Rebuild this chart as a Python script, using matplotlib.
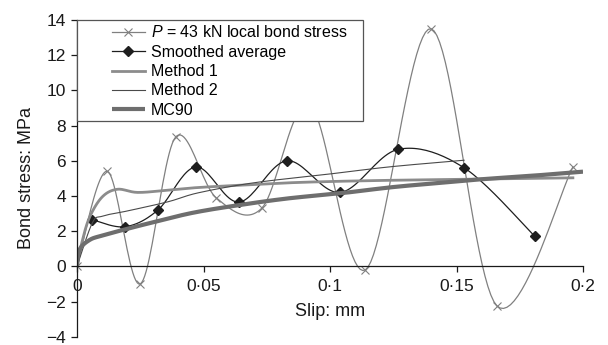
import numpy as np
import matplotlib
matplotlib.use("Agg")
import matplotlib.pyplot as plt
from matplotlib.legend_handler import HandlerLine2D
from matplotlib.patches import Rectangle

plt.rcParams['font.family'] = ['Liberation Sans', 'DejaVu Sans']
plt.rcParams['mathtext.fontset'] = 'custom'
plt.rcParams['mathtext.it'] = 'Liberation Sans:italic'
plt.rcParams['mathtext.rm'] = 'Liberation Sans'

# local bond stress at P = 43 kN (x markers)
local_x = [0, 0.012, 0.025, 0.039, 0.055, 0.073, 0.092, 0.114, 0.140, 0.166, 0.196]
local_y = [0, 5.4, -1.0, 7.35, 3.9, 3.3, 9.2, -0.2, 13.5, -2.25, 5.65]

# smoothed average (diamonds)
avg_x = [0.006, 0.019, 0.032, 0.047, 0.064, 0.083, 0.104, 0.127, 0.153, 0.181]
avg_y = [2.65, 2.25, 3.2, 5.65, 3.65, 6.0, 4.2, 6.65, 5.6, 1.7]

# method 1
m1_x = [0, 0.002, 0.005, 0.010, 0.016, 0.024, 0.036, 0.048, 0.070, 0.090, 0.120, 0.160, 0.196]
m1_y = [0, 1.4, 2.8, 3.95, 4.38, 4.2, 4.33, 4.48, 4.65, 4.78, 4.88, 4.96, 5.03]

# method 2
m2_x = [0, 0.006, 0.010, 0.020, 0.036, 0.048, 0.070, 0.100, 0.124, 0.153]
m2_y = [0, 2.45, 2.85, 3.15, 3.67, 4.18, 4.75, 5.25, 5.66, 6.03]

# MC90
mc_x = [0, 0.001, 0.005, 0.010, 0.019, 0.030, 0.046, 0.065, 0.084, 0.104, 0.124, 0.140, 0.160, 0.180, 0.200]
mc_y = [0, 0.95, 1.5, 1.75, 2.1, 2.5, 3.05, 3.5, 3.87, 4.15, 4.49, 4.7, 4.95, 5.15, 5.38]

x_ticks = [0, 0.05, 0.1, 0.15, 0.2]
x_labels = ['0', '0·05', '0·1', '0·15', '0·2']
y_ticks = list(range(-4, 15, 2))


def smooth(x, y, n=24):
    # Excel-style smoothed line (Catmull-Rom Bezier through the points)
    p = np.column_stack([x, y]).astype(float)
    ext = np.vstack([p[0], p, p[-1]])
    out = []
    t = np.linspace(0, 1, n)[:, None]
    for i in range(len(p) - 1):
        p0, p1, p2, p3 = ext[i], ext[i + 1], ext[i + 2], ext[i + 3]
        c1 = p1 + (p2 - p0) / 6
        c2 = p2 - (p3 - p1) / 6
        seg = (1 - t) ** 3 * p1 + 3 * (1 - t) ** 2 * t * c1 + 3 * (1 - t) * t ** 2 * c2 + t ** 3 * p2
        out.append(seg if i == 0 else seg[1:])
    pts = np.vstack(out)
    return pts[:, 0], pts[:, 1]


fig = plt.figure(figsize=(6.08, 3.45), dpi=100)
ax = fig.add_axes([77 / 608, 1 - 336.7 / 345, 506 / 608, 316.7 / 345])

c_local = '#808080'
c_avg = '#1e1e1e'
c_m1 = '#8c8c8c'
c_m2 = '#4a4a4a'
c_mc = '#6e6e6e'

sx, sy = smooth(local_x, local_y)
ax.plot(sx, sy, color=c_local, lw=0.9)
ax.plot(local_x, local_y, ls='none', marker='x', ms=6, mew=0.8, color=c_local)
h_local, = ax.plot([], [], color=c_local, lw=0.9, marker='x', ms=6, mew=0.8)

sx, sy = smooth(avg_x, avg_y)
ax.plot(sx, sy, color=c_avg, lw=0.9)
ax.plot(avg_x, avg_y, ls='none', marker='D', ms=5, color=c_avg)
h_avg, = ax.plot([], [], color=c_avg, lw=0.9, marker='D', ms=5)

sx, sy = smooth(m1_x, m1_y)
h_m1, = ax.plot(sx, sy, color=c_m1, lw=2.0)
sx, sy = smooth(m2_x, m2_y)
h_m2, = ax.plot(sx, sy, color=c_m2, lw=0.8)
sx, sy = smooth(mc_x, mc_y)
h_mc, = ax.plot(sx, sy, color=c_mc, lw=3.0, solid_capstyle='butt')

ax.set_xlim(0, 0.2)
ax.set_ylim(-4, 14)
ax.set_xticks(x_ticks)
ax.set_xticklabels(x_labels)
ax.set_yticks(y_ticks)
ax.spines['top'].set_visible(False)
ax.spines['right'].set_visible(False)
ax.spines['bottom'].set_position(('data', 0))
for s in ['left', 'bottom']:
    ax.spines[s].set_linewidth(0.9)
    ax.spines[s].set_color('#1a1a1a')
ax.tick_params(direction='out', length=4.3, width=0.9, labelsize=12.5,
               colors='#1a1a1a', pad=3.5)
ax.tick_params(axis='x', pad=5)
ax.set_xlabel('Slip: mm', fontsize=13, color='#1a1a1a', labelpad=6)
ax.set_ylabel('Bond stress: MPa', fontsize=13, color='#1a1a1a', labelpad=8)

# legend box, as in the reference it hugs the top-left corner of the axes
box_h = 101 / 316.7
ax.add_patch(Rectangle((0, 1 - box_h), 286 / 506, box_h, transform=ax.transAxes,
                       facecolor='white', edgecolor='#555555', lw=0.9,
                       zorder=9, clip_on=False))

handler = HandlerLine2D(xpad=1.89, numpoints=1)
leg = ax.legend([h_local, h_avg, h_m1, h_m2, h_mc],
                ['$P$ = 43 kN local bond stress', 'Smoothed average',
                 'Method 1', 'Method 2', 'MC90'],
                handler_map={h: handler for h in [h_local, h_avg, h_m1, h_m2, h_mc]},
                loc='upper left', bbox_to_anchor=(0, 1), borderaxespad=0,
                fontsize=11.5, handlelength=3.96, handletextpad=0.38,
                labelspacing=0.275, borderpad=0.27, frameon=False)
leg.set_zorder(10)

fig.savefig('out.png', dpi=100, facecolor='white')
